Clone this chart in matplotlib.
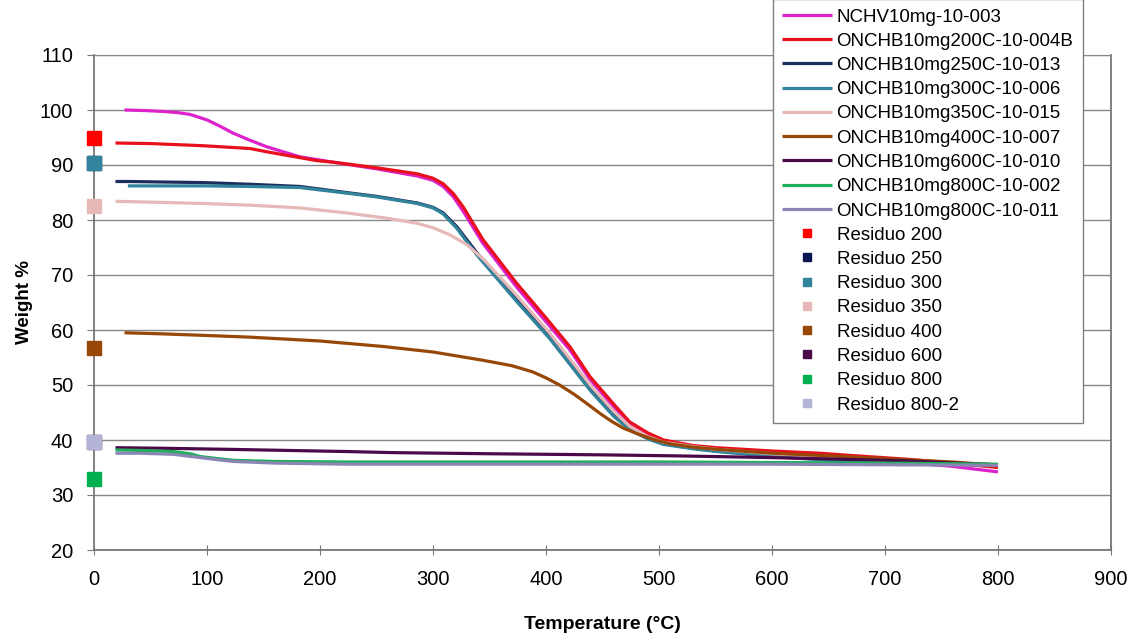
#!/usr/bin/env python3
import matplotlib
matplotlib.use('Agg')
import matplotlib.pyplot as plt

# TGA curves: temperature (C) and weight (%)
ncHV_t = [27, 45, 64, 75, 85, 100, 112, 123, 138, 153, 182, 212, 250, 286, 300, 309, 318, 327, 344, 374, 400, 421, 439, 460, 474, 490, 504, 530, 551, 600, 642, 669, 720, 760, 800]
ncHV_w = [100, 99.9, 99.7, 99.5, 99.2, 98.2, 97.0, 95.8, 94.5, 93.3, 91.5, 90.5, 89.3, 88.0, 87.2, 86.1, 84.2, 81.5, 75.8, 67.8, 61.5, 56.4, 51.0, 46.0, 43.0, 41.0, 39.6, 38.8, 38.4, 37.8, 37.3, 36.8, 35.9, 35.2, 34.2]

c200_t = [19, 50, 97, 138, 153, 197, 212, 250, 286, 300, 309, 318, 327, 344, 374, 400, 421, 439, 460, 474, 490, 504, 530, 551, 600, 642, 669, 720, 760, 800]
c200_w = [94.0, 93.9, 93.5, 93.0, 92.4, 90.8, 90.5, 89.5, 88.4, 87.6, 86.6, 84.8, 82.3, 76.5, 68.5, 62.2, 57.0, 51.5, 46.5, 43.3, 41.3, 40.0, 39.0, 38.6, 38.0, 37.6, 37.2, 36.5, 35.8, 35.0]

c250_t = [19, 30, 97, 138, 182, 223, 250, 286, 300, 309, 321, 339, 374, 403, 421, 440, 460, 474, 490, 504, 530, 551, 600, 642, 700, 760, 800]
c250_w = [87.0, 87.0, 86.8, 86.5, 86.1, 85.0, 84.3, 83.1, 82.3, 81.3, 78.8, 74.0, 65.5, 58.8, 54.0, 49.0, 44.5, 42.0, 40.3, 39.3, 38.5, 38.0, 37.2, 36.6, 36.0, 35.6, 35.4]

c300_t = [30, 60, 97, 138, 182, 223, 250, 286, 300, 309, 321, 339, 374, 403, 421, 440, 460, 474, 490, 504, 530, 551, 600, 642, 700, 760, 800]
c300_w = [86.2, 86.2, 86.2, 86.1, 85.9, 84.9, 84.2, 83.0, 82.2, 81.1, 78.5, 73.6, 65.2, 58.5, 53.8, 48.8, 44.3, 41.9, 40.2, 39.2, 38.4, 37.9, 37.0, 36.4, 35.9, 35.6, 35.5]

c350_t = [19, 60, 97, 138, 182, 223, 260, 286, 300, 315, 330, 345, 374, 403, 421, 440, 460, 474, 490, 504, 530, 551, 600, 642, 700, 760, 800]
c350_w = [83.4, 83.2, 83.0, 82.7, 82.2, 81.3, 80.3, 79.4, 78.6, 77.3, 75.5, 72.8, 66.3, 59.5, 54.8, 49.8, 45.2, 42.5, 40.6, 39.6, 38.8, 38.3, 37.5, 37.0, 36.3, 35.8, 35.5]

c400_t = [27, 60, 100, 138, 200, 256, 300, 344, 370, 388, 400, 412, 425, 437, 448, 458, 468, 480, 495, 510, 530, 551, 600, 642, 700, 760, 800]
c400_w = [59.5, 59.3, 59.0, 58.7, 58.0, 57.0, 56.0, 54.5, 53.5, 52.4, 51.3, 50.0, 48.3, 46.5, 44.8, 43.4, 42.2, 41.2, 40.1, 39.3, 38.7, 38.3, 37.6, 37.2, 36.6, 36.0, 35.4]

c600_t = [19, 60, 120, 224, 266, 350, 450, 520, 600, 642, 720, 760, 800]
c600_w = [38.6, 38.5, 38.3, 37.9, 37.7, 37.5, 37.3, 37.1, 36.8, 36.6, 36.2, 35.8, 35.5]

c800a_t = [19, 40, 70, 85, 94, 110, 124, 160, 224, 300, 400, 500, 600, 700, 800]
c800a_w = [38.2, 38.1, 37.9, 37.5, 37.0, 36.6, 36.3, 36.1, 36.0, 36.0, 36.0, 36.0, 35.9, 35.8, 35.6]

c800b_t = [19, 40, 70, 94, 110, 124, 160, 224, 300, 400, 500, 600, 700, 800]
c800b_w = [37.6, 37.6, 37.4, 36.8, 36.4, 36.1, 35.8, 35.6, 35.6, 35.6, 35.6, 35.6, 35.5, 35.4]

curve_labels = ['NCHV10mg-10-003', 'ONCHB10mg200C-10-004B', 'ONCHB10mg250C-10-013',
        'ONCHB10mg300C-10-006', 'ONCHB10mg350C-10-015', 'ONCHB10mg400C-10-007',
        'ONCHB10mg600C-10-010', 'ONCHB10mg800C-10-002', 'ONCHB10mg800C-10-011']
curve_colors = ['#DD22CC', '#E8101C', '#1C2E5C', '#31849B', '#E6B9B8', '#974806',
        '#4A0A4A', '#1FAE5A', '#8A86B4']

# residues measured at the end, plotted at T = 0
residue_labels = ['Residuo 200', 'Residuo 250', 'Residuo 300', 'Residuo 350',
        'Residuo 400', 'Residuo 600', 'Residuo 800', 'Residuo 800-2']
residue_values = [95.0, 90.4, 90.4, 82.5, 56.8, 39.7, 33.0, 39.7]
residue_colors = ['#FF0000', '#0A1650', '#31849B', '#E6B9B8', '#974806', '#4A0A4A',
        '#00B050', '#B4B4D8']

curves = [(ncHV_t, ncHV_w), (c200_t, c200_w), (c250_t, c250_w), (c300_t, c300_w),
        (c350_t, c350_w), (c400_t, c400_w), (c600_t, c600_w), (c800a_t, c800a_w),
        (c800b_t, c800b_w)]

plt.rcParams['font.family'] = ['Liberation Sans', 'DejaVu Sans']

fig = plt.figure(figsize=(11.39, 6.39), dpi=100)
ax = fig.add_axes([94 / 1139, 1 - 550 / 639, (1111 - 94) / 1139, (550 - 55) / 639])

for (t, w), label, color in zip(curves, curve_labels, curve_colors):
    ax.plot(t, w, color=color, linewidth=2.3, label=label, solid_capstyle='butt')

for value, label, color in zip(residue_values, residue_labels, residue_colors):
    ax.plot([0], [value], linestyle='none', marker='s', markersize=9.5,
            color=color, label=label, clip_on=False, zorder=5)

ax.set_xlim(0, 900)
ax.set_ylim(20, 110)
ax.set_xticks(range(0, 901, 100))
ax.set_yticks(range(20, 111, 10))
ax.yaxis.grid(True, color='#888888', linewidth=1.0)
ax.set_axisbelow(True)
for side in ['left', 'bottom', 'right']:
    ax.spines[side].set_color('#777777')
    ax.spines[side].set_linewidth(1.3)
ax.spines['top'].set_color('#888888')
ax.tick_params(axis='x', direction='inout', length=7, color='#777777', labelsize=14.5, pad=11)
ax.tick_params(axis='y', direction='out', length=5, color='#777777', labelsize=14.5, pad=10)

ax.set_xlabel('Temperature (°C)', fontsize=14, fontweight='bold', labelpad=19)
ax.set_ylabel('Weight %', fontsize=13.5, fontweight='bold', labelpad=5)

leg = ax.legend(loc='upper left', bbox_to_anchor=(773 / 1139, 1 + 1 / 639),
        bbox_transform=fig.transFigure, borderaxespad=0, fontsize=13.5,
        frameon=True, fancybox=False, edgecolor='#808080', framealpha=1,
        handlelength=2.67, handletextpad=0.22, labelspacing=0.38,
        borderpad=0.5, markerscale=0.65)
leg.get_frame().set_linewidth(1.0)
leg.set_zorder(10)

plt.savefig('out.png', dpi=100)
plt.close()
